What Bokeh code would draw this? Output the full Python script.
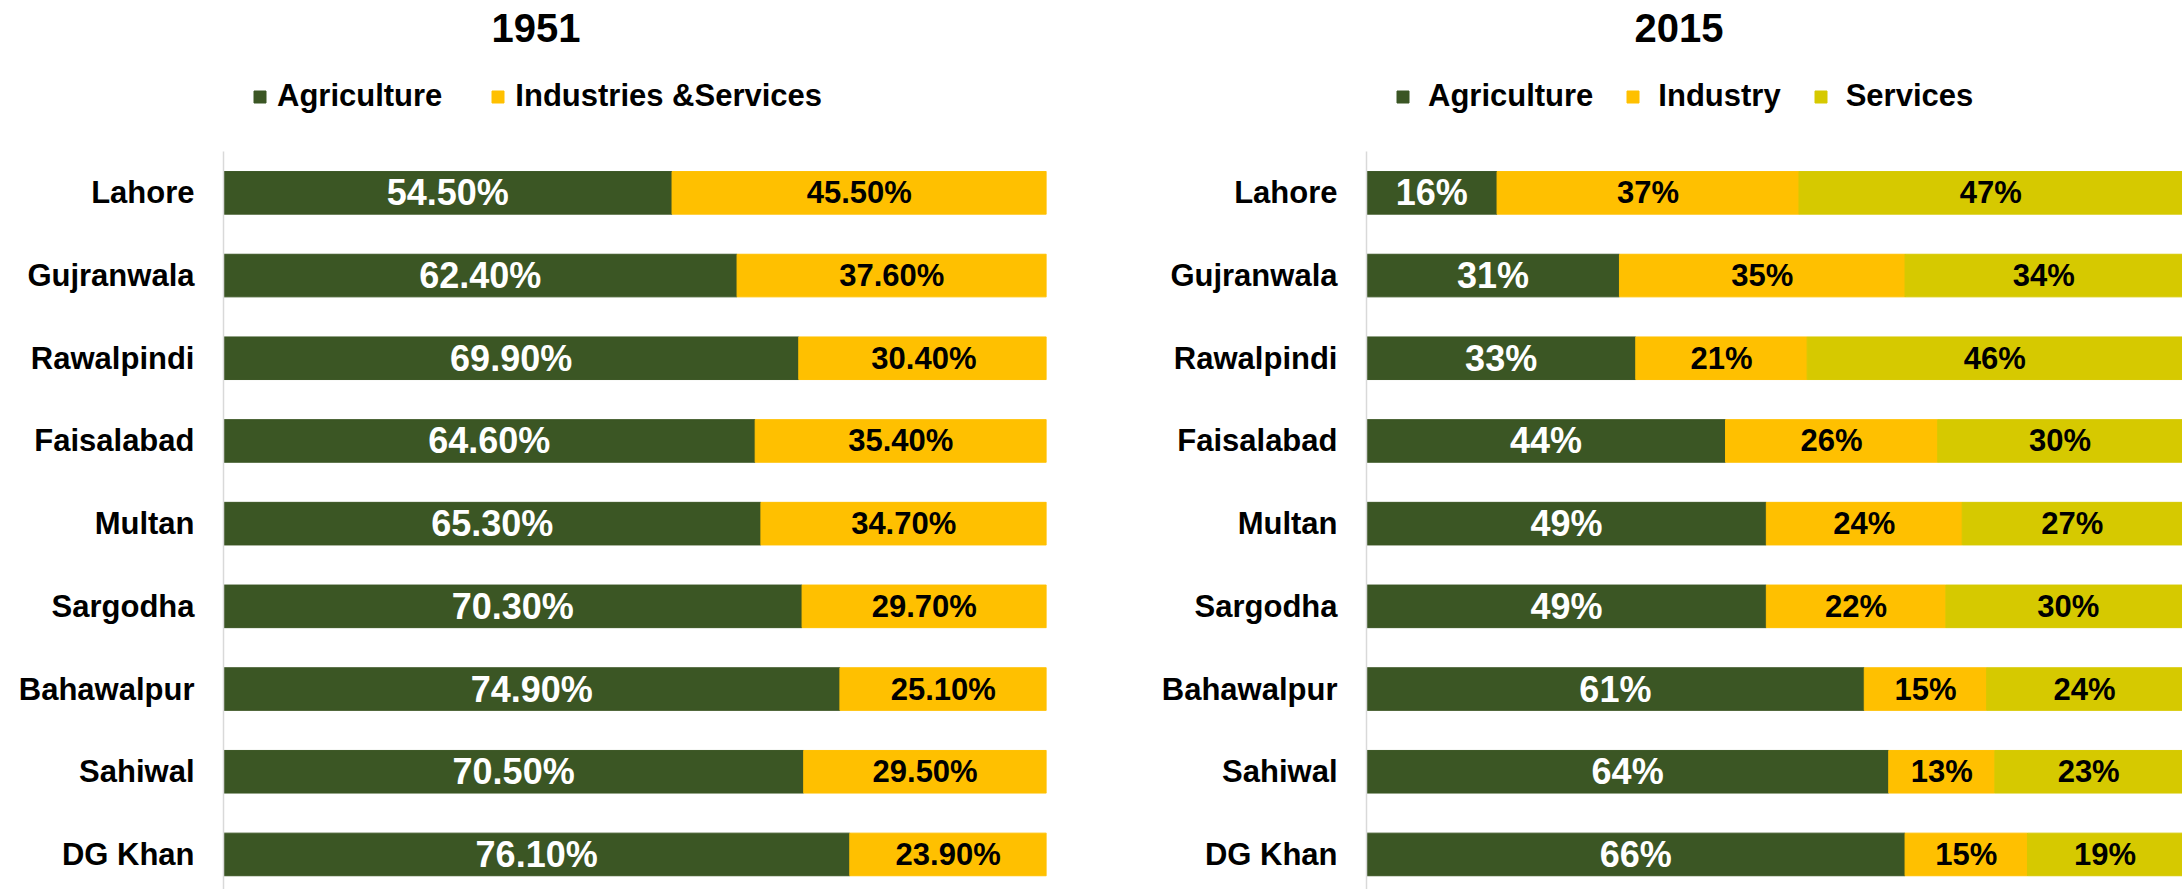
from bokeh.plotting import figure
from bokeh.models import ColumnDataSource, Range1d, FixedTicker, Legend, LegendItem
from bokeh.layouts import row
from bokeh.embed import file_html
from bokeh.resources import INLINE
from bokeh.core.properties import value

cities = ["Lahore", "Gujranwala", "Rawalpindi", "Faisalabad", "Multan",
          "Sargodha", "Bahawalpur", "Sahiwal", "DG Khan"]

agri_1951 = [54.5, 62.4, 69.9, 64.6, 65.3, 70.3, 74.9, 70.5, 76.1]
indserv_1951 = [45.5, 37.6, 30.4, 35.4, 34.7, 29.7, 25.1, 29.5, 23.9]

agri_2015 = [16, 31, 33, 44, 49, 49, 61, 64, 66]
industry_2015 = [37, 35, 21, 26, 24, 22, 15, 13, 15]
services_2015 = [47, 34, 46, 30, 27, 30, 24, 23, 19]

GREEN = "#3B5624"
YELLOW = "#FFC000"
OLIVE = "#D6C900"
FONT = "Liberation Sans"

FIG_H = 889
FRAME_TOP = 46       # top border (holds the title)
CAT_TOP = 151        # pixel where the first category band starts
UNIT = 82.7          # pixels per category
LEGEND_MID = 96      # pixel centre of the legend row


def make_panel(title, series, names, colors, fmt, width, border_left, border_right,
               title_offset, legend_standoff, legend_spacing):
    frame_h = FIG_H - FRAME_TOP
    y_top = -0.5 - (CAT_TOP - FRAME_TOP) / UNIT
    p = figure(width=width, height=FIG_H, output_backend="svg", toolbar_location=None,
               x_range=Range1d(0, 100),
               y_range=Range1d(y_top + frame_h / UNIT, y_top),
               min_border_left=border_left, min_border_right=border_right,
               min_border_top=FRAME_TOP, min_border_bottom=0)

    ys = list(range(len(cities)))
    keys = [f"s{i}" for i in range(len(series))]
    data = {"y": ys}
    for k, s in zip(keys, series):
        data[k] = s
    src = ColumnDataSource(data)
    rends = p.hbar_stack(keys, y="y", height=0.515, color=colors, source=src)

    lefts = [0.0] * len(cities)
    for i, s in enumerate(series):
        xs = [l + v / 2 for l, v in zip(lefts, s)]
        lefts = [l + v for l, v in zip(lefts, s)]
        tsrc = ColumnDataSource(dict(x=xs, y=ys, t=[fmt.format(v) for v in s]))
        p.text(x="x", y="y", text="t", source=tsrc,
               text_font=value(FONT), text_font_style="bold",
               text_font_size="36px" if i == 0 else "31px",
               text_color="white" if i == 0 else "black",
               text_align="center", text_baseline="middle")

    legend = Legend(items=[LegendItem(label=n, renderers=[r]) for n, r in zip(names, rends)],
                    orientation="horizontal",
                    location=(29, FIG_H - (LEGEND_MID + 20)),
                    margin=0, padding=0, glyph_width=15, glyph_height=15, label_height=40,
                    label_standoff=legend_standoff, spacing=legend_spacing,
                    label_text_font=FONT, label_text_font_size="31px",
                    label_text_font_style="bold", label_text_color="black",
                    border_line_color=None, background_fill_alpha=0)
    p.add_layout(legend, "center")

    p.title.text = title
    p.title.text_font = FONT
    p.title.text_font_size = "40px"
    p.title.text_font_style = "bold"
    p.title.text_color = "black"
    p.title.align = "left"
    p.title.offset = title_offset
    p.title.standoff = 10

    p.xaxis.visible = False
    p.xgrid.visible = False
    p.ygrid.visible = False
    p.outline_line_color = None
    ax = p.yaxis[0]
    ax.ticker = FixedTicker(ticks=ys)
    ax.bounds = (-0.5, len(cities) + 1)
    ax.major_label_overrides = {i: c for i, c in zip(ys, cities)}
    ax.major_tick_line_color = None
    ax.minor_tick_line_color = None
    ax.major_tick_out = 0
    ax.major_tick_in = 0
    ax.axis_line_color = "#D9D9D9"
    ax.axis_line_width = 1.5
    ax.major_label_standoff = 29
    ax.major_label_text_font = FONT
    ax.major_label_text_font_size = "31px"
    ax.major_label_text_font_style = "bold"
    ax.major_label_text_color = "black"
    return p


p1 = make_panel("1951", [agri_1951, indserv_1951], ["Agriculture", "Industries &Services"],
                [GREEN, YELLOW], "{:.2f}%", 1100, 223, 54, 268, 10, 48)
p2 = make_panel("2015", [agri_2015, industry_2015, services_2015],
                ["Agriculture", "Industry", "Services"],
                [GREEN, YELLOW, OLIVE], "{:.0f}%", 1082, 266, 0, 268, 18, 32)

layout = row(p1, p2)
open("out.html", "w").write(file_html(layout, INLINE))
